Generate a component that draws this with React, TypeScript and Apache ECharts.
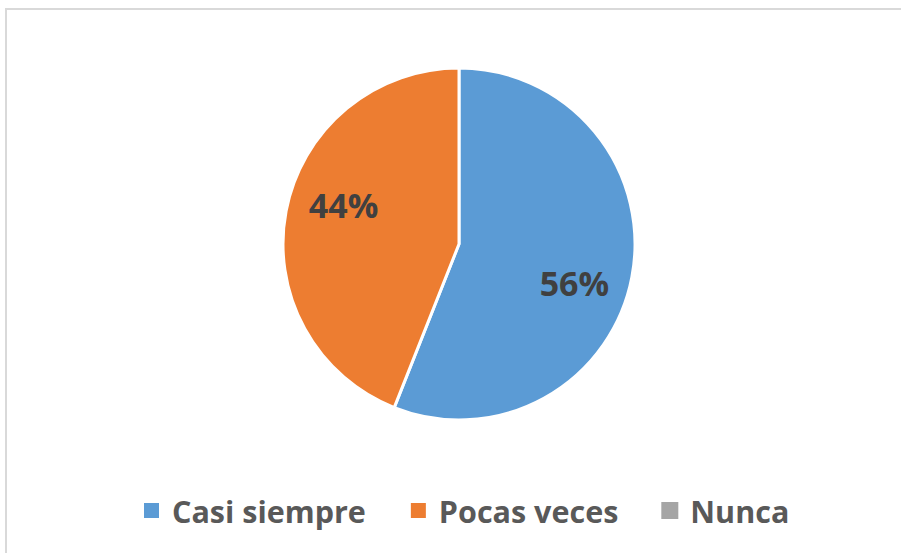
import React, { useEffect, useRef } from "react";
import * as echarts from "echarts";

const categories = ["Casi siempre", "Pocas veces", "Nunca"];
const values = [56, 44, 0];
const colors = ["#5B9BD5", "#ED7D31", "#A5A5A5"];

export default function App() {
  const ref = useRef<HTMLDivElement>(null);
  useEffect(() => {
    const chart = echarts.init(ref.current!, null, { renderer: "svg" });
    const labelShift = [
      [26, 22],
      [-26, -22],
      [0, 0],
    ];
    chart.setOption({
      animation: false,
      backgroundColor: "#ffffff",
      color: colors,
      graphic: [
        {
          type: "rect",
          shape: { x: 6, y: 9, width: 1000, height: 1000 },
          style: { fill: "none", stroke: "#d9d9d9", lineWidth: 2 },
          silent: true,
        },
      ],
      legend: {
        data: categories,
        left: 137,
        top: 490,
        orient: "horizontal",
        icon: "rect",
        itemWidth: 17,
        itemHeight: 17,
        itemGap: 43,
        textStyle: {
          fontFamily: "Open Sans",
          fontWeight: "bold",
          fontSize: 30.5,
          color: "#595959",
          padding: [0, 0, 0, 7],
        },
      },
      series: [
        {
          type: "pie",
          center: [459, 244],
          radius: 176,
          startAngle: 90,
          clockwise: true,
          label: {
            show: true,
            position: "inside",
            fontFamily: "Open Sans",
            fontWeight: "bold",
            fontSize: 34,
            color: "#404040",
            formatter: (p: any) => (p.value > 0 ? `${Math.round(p.percent)}%` : ""),
          },
          labelLayout: (p: any) => ({
            dx: labelShift[p.dataIndex][0],
            dy: labelShift[p.dataIndex][1],
          }),
          labelLine: { show: false },
          emphasis: { disabled: true },
          itemStyle: { borderColor: "#ffffff", borderWidth: 3 },
          data: categories.map((name, i) => ({
            name,
            value: values[i],
            itemStyle: values[i] === 0 ? { borderWidth: 0 } : undefined,
          })),
        },
      ],
    });
    return () => chart.dispose();
  }, []);
  return (
    <div
      ref={ref}
      style={{ position: "fixed", left: 0, top: 0, width: 901, height: 553 }}
    />
  );
}
